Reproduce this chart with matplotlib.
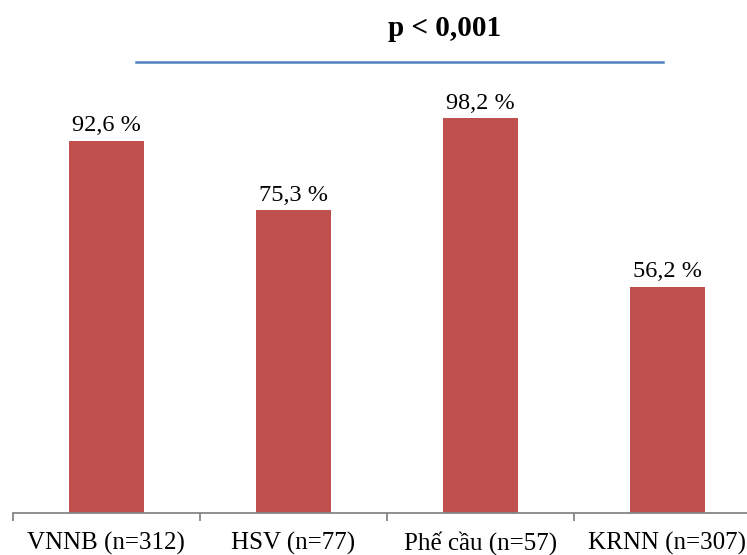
import matplotlib
matplotlib.use("Agg")
import matplotlib.pyplot as plt

plt.rcParams["font.family"] = ["Liberation Serif", "DejaVu Serif"]

groups = ["VNNB (n=312)", "HSV (n=77)", "Phế cầu (n=57)", "KRNN (n=307)"]
rates = [92.6, 75.3, 98.2, 56.2]
p_text = "p < 0,001"

BAR_COLOR = "#C0504D"
LINE_COLOR = "#4F81BD"
AXIS_COLOR = "#868686"

fig = plt.figure(figsize=(7.47, 5.55), dpi=100)
ax = fig.add_axes([0.017, 0.0757, 1.0013, 0.9243])

x = list(range(len(groups)))
ax.bar(x, rates, width=0.4, color=BAR_COLOR, zorder=2)

for xi, v in zip(x, rates):
    label = f"{v:.1f}".replace(".", ",") + " %"
    ax.text(xi, v + 2.4, label, ha="center", va="baseline", fontsize=17.5)

ax.set_xlim(-0.5, len(groups) - 0.5)
ax.set_ylim(0, 127.6)

# category separators as major ticks, names on minor ticks
ax.set_xticks([i - 0.5 for i in range(len(groups) + 1)])
ax.set_xticklabels([])
ax.set_xticks(x, minor=True)
ax.set_xticklabels(groups, minor=True, fontsize=18, va="baseline")
ax.tick_params(axis="x", which="major", length=6, width=1.3, color=AXIS_COLOR, direction="out")
ax.tick_params(axis="x", which="minor", length=0, pad=26.5)
ax.set_yticks([])

for side in ["top", "right", "left"]:
    ax.spines[side].set_visible(False)
ax.spines["bottom"].set_color(AXIS_COLOR)
ax.spines["bottom"].set_linewidth(1.3)

# significance bar across the groups
ax.plot([0.16, 2.98], [112.2, 112.2], color=LINE_COLOR, lw=1.8, clip_on=False)
ax.text(1.81, 120.6, p_text, ha="center", va="center", fontsize=21, fontweight="bold")

fig.savefig("out.png", dpi=100)
